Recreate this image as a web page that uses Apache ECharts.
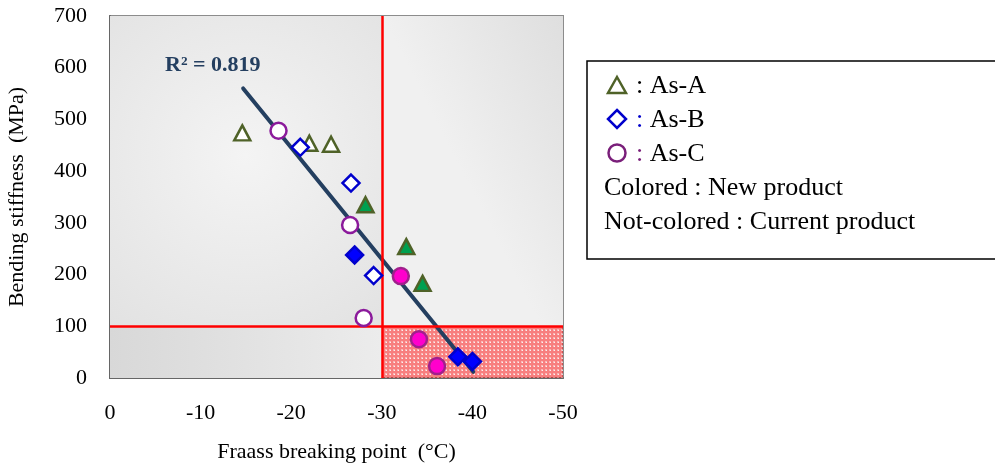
<!DOCTYPE html>
<html>
<head>
<meta charset="utf-8">
<script src="https://cdn.jsdelivr.net/npm/echarts@6/dist/echarts.min.js"></script>
<style>
html, body { margin: 0; padding: 0; background: #fff; }
#main { width: 995px; height: 468px; }
</style>
</head>
<body>
<div id="main"></div>
<script>
// 数据
var xTicks = [0, -10, -20, -30, -40, -50];
var yTicks = [0, 100, 200, 300, 400, 500, 600, 700];
var asA_current = [[-14.6, 474], [-22.0, 454], [-24.4, 452]];
var asA_new = [[-28.2, 335], [-32.7, 254], [-34.5, 183]];
var asB_current = [[-21.0, 446], [-26.6, 377], [-29.1, 198]];
var asB_new = [[-27.0, 238], [-38.4, 41], [-40.0, 32]];
var asC_current = [[-18.6, 478], [-26.5, 296], [-28.0, 116]];
var asC_new = [[-32.1, 197], [-34.1, 75], [-36.1, 23]];
var trend = [[-14.7, 560], [-40.1, 12]];
var xLimit = -30;
var yLimit = 100;

var font = 'Liberation Serif';

// 红色网格图案
var pc = document.createElement('canvas');
pc.width = 4; pc.height = 4;
var pctx = pc.getContext('2d');
pctx.fillStyle = 'rgba(255,40,40,0.7)';
pctx.fillRect(0, 0, 4, 4);
pctx.fillStyle = 'rgba(255,255,255,0.45)';
pctx.fillRect(1, 1, 2, 2);
pctx.fillStyle = 'rgba(255,255,255,0.85)';
pctx.fillRect(2, 2, 1, 1);

function lin(x2, y2, c1, c2) {
    return { type: 'linear', x: 0, y: 0, x2: x2, y2: y2,
        colorStops: [{ offset: 0, color: c1 }, { offset: 1, color: c2 }] };
}

function scatter(name, data, symbol, stroke, fill) {
    return {
        name: name,
        type: 'scatter',
        data: data,
        symbol: symbol,
        symbolSize: symbol == 'triangle' ? [16, 15] : (symbol == 'diamond' ? [17, 17] : 16),
        z: 5,
        itemStyle: { color: fill, borderColor: stroke, borderWidth: 2.5, opacity: 1 }
    };
}

var chart = echarts.init(document.getElementById('main'));
var option = {
    animation: false,
    grid: {
        left: 110, top: 16, right: 432, bottom: 90,
        show: true, borderColor: '#8c8c8c', borderWidth: 2, backgroundColor: '#eeeeee'
    },
    xAxis: {
        type: 'value', min: -50, max: 0, interval: 10, inverse: true,
        name: 'Fraass breaking point  (°C)', nameLocation: 'middle', nameGap: 63,
        nameTextStyle: { fontFamily: font, fontSize: 22, color: '#000' },
        axisLine: { show: true, lineStyle: { color: '#666', width: 2 } },
        axisTick: { show: false },
        splitLine: { show: false },
        axisLabel: { fontFamily: font, fontSize: 22, color: '#000', margin: 24 }
    },
    yAxis: {
        type: 'value', min: 0, max: 700, interval: 100,
        name: 'Bending stiffness  (MPa)', nameLocation: 'middle', nameGap: 82,
        nameTextStyle: { fontFamily: font, fontSize: 22, color: '#000' },
        axisLine: { show: true, lineStyle: { color: '#666', width: 2 } },
        axisTick: { show: false },
        splitLine: { show: false },
        axisLabel: { fontFamily: font, fontSize: 22, color: '#000', margin: 23 }
    },
    series: [
        {
            type: 'scatter', data: [], z: 1, silent: true,
            markArea: {
                silent: true,
                data: [
                    [{ xAxis: 0, yAxis: yLimit, itemStyle: { color: { type: 'radial', x: 0.5, y: 0.45, r: 0.8,
                        colorStops: [{ offset: 0, color: '#f4f4f4' }, { offset: 1, color: '#e2e2e2' }] } } },
                     { xAxis: xLimit, yAxis: 700 }],
                    [{ xAxis: xLimit, yAxis: yLimit, itemStyle: { color: lin(1, -0.3, '#f0f0f0', '#dadada') } },
                     { xAxis: -50, yAxis: 700 }],
                    [{ xAxis: 0, yAxis: 0, itemStyle: { color: lin(1, 0, '#d8d8d8', '#ececec') } },
                     { xAxis: xLimit, yAxis: yLimit }]
                ]
            }
        },
        {
            type: 'line', data: trend, z: 4, symbol: 'none',
            lineStyle: { color: '#243f60', width: 4, cap: 'round' }
        },
        scatter('As-A current', asA_current, 'triangle', '#4f6228', '#ffffff'),
        scatter('As-A new', asA_new, 'triangle', '#4f6228', '#00a050'),
        scatter('As-B current', asB_current, 'diamond', '#0000cc', '#ffffff'),
        scatter('As-B new', asB_new, 'diamond', '#0000cc', '#0000ff'),
        scatter('As-C current', asC_current, 'circle', '#8b1a9b', '#ffffff'),
        scatter('As-C new', asC_new, 'circle', '#a0208c', '#ff00cc'),
        {
            type: 'scatter', data: [], z: 8, silent: true,
            markArea: {
                silent: true,
                itemStyle: { color: { image: pc, repeat: 'repeat' }, opacity: 0.8 },
                data: [[{ xAxis: xLimit, yAxis: 0 }, { xAxis: -50, yAxis: yLimit }]]
            },
            markLine: {
                silent: true, symbol: 'none', label: { show: false },
                lineStyle: { color: '#ff0000', width: 2.5, type: 'solid' },
                data: [{ xAxis: xLimit }, { yAxis: yLimit }]
            }
        }
    ],
    graphic: [
        {
            type: 'text', left: 165, top: 54, z: 20,
            style: { text: 'R² = 0.819', fontFamily: font, fontSize: 22, fontWeight: 'bold', fill: '#243f60' }
        },
        {
            type: 'rect', z: 20,
            shape: { x: 587, y: 61, width: 430, height: 198 },
            style: { fill: '#fff', stroke: '#000', lineWidth: 1.5 }
        },
        {
            type: 'polygon', z: 21,
            shape: { points: [[617, 77], [626, 93], [608, 93]] },
            style: { fill: '#fff', stroke: '#4f6228', lineWidth: 2.5 }
        },
        {
            type: 'polygon', z: 21,
            shape: { points: [[617, 110], [626, 119], [617, 128], [608, 119]] },
            style: { fill: '#fff', stroke: '#0000cc', lineWidth: 2.5 }
        },
        {
            type: 'circle', z: 21,
            shape: { cx: 617, cy: 153, r: 8.5 },
            style: { fill: '#fff', stroke: '#7a1f7a', lineWidth: 2.5 }
        },
        {
            type: 'text', z: 21, x: 636, y: 86,
            style: { text: '{a|:} As-A', verticalAlign: 'middle', fontFamily: font, fontSize: 26, fill: '#000',
                rich: { a: { fill: '#000', fontFamily: font, fontSize: 26 } } }
        },
        {
            type: 'text', z: 21, x: 636, y: 120,
            style: { text: '{a|:} As-B', verticalAlign: 'middle', fontFamily: font, fontSize: 26, fill: '#000',
                rich: { a: { fill: '#0000cc', fontFamily: font, fontSize: 26 } } }
        },
        {
            type: 'text', z: 21, x: 636, y: 154,
            style: { text: '{a|:} As-C', verticalAlign: 'middle', fontFamily: font, fontSize: 26, fill: '#000',
                rich: { a: { fill: '#7a1f7a', fontFamily: font, fontSize: 26 } } }
        },
        {
            type: 'text', z: 21, x: 604, y: 188,
            style: { text: 'Colored : New product', verticalAlign: 'middle', fontFamily: font, fontSize: 26, fill: '#000' }
        },
        {
            type: 'text', z: 21, x: 604, y: 222,
            style: { text: 'Not-colored : Current product', verticalAlign: 'middle', fontFamily: font, fontSize: 26, fill: '#000' }
        }
    ]
};
chart.setOption(option);
</script>
</body>
</html>
